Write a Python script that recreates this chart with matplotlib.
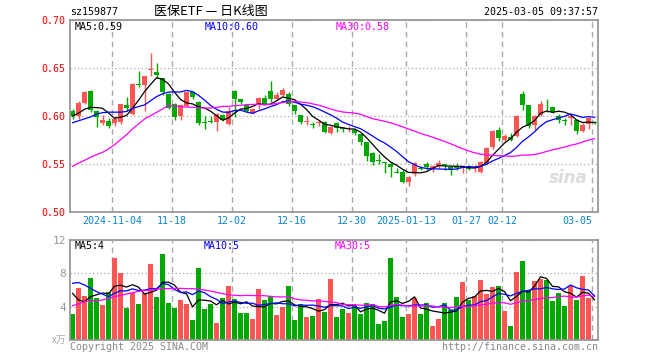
import matplotlib
matplotlib.use("Agg")
import matplotlib.pyplot as plt
import numpy as np
import pandas as pd

# ── daily candles for sz159877 (index 0 = left edge) ──
opens = [0.605, 0.600, 0.614, 0.626, 0.605, 0.593, 0.595, 0.593, 0.594, 0.611,
         0.602, 0.633, 0.632, 0.648, 0.646, 0.640, 0.623, 0.613, 0.600, 0.610,
         0.625, 0.615, 0.594, 0.595, 0.594, 0.601, 0.592, 0.626, 0.618, 0.611,
         0.603, 0.612, 0.619, 0.626, 0.618, 0.622, 0.623, 0.611, 0.601, 0.594,
         0.592, 0.593, 0.594, 0.582, 0.593, 0.587, 0.587, 0.585, 0.581, 0.573,
         0.561, 0.554, 0.552, 0.550, 0.542, 0.542, 0.531, 0.540, 0.546, 0.550,
         0.545, 0.548, 0.550, 0.547, 0.548, 0.546, 0.547, 0.546, 0.542, 0.551,
         0.568, 0.585, 0.575, 0.578, 0.579, 0.623, 0.611, 0.591, 0.601, 0.613,
         0.609, 0.600, 0.596, 0.598, 0.596, 0.584, 0.592, 0.594]
highs = [0.607, 0.616, 0.626, 0.627, 0.606, 0.601, 0.598, 0.600, 0.612, 0.620,
         0.634, 0.647, 0.642, 0.666, 0.655, 0.640, 0.624, 0.614, 0.612, 0.626,
         0.626, 0.616, 0.600, 0.600, 0.603, 0.602, 0.609, 0.627, 0.618, 0.611,
         0.608, 0.620, 0.622, 0.636, 0.625, 0.629, 0.625, 0.611, 0.601, 0.600,
         0.594, 0.596, 0.595, 0.590, 0.594, 0.589, 0.590, 0.587, 0.581, 0.573,
         0.563, 0.560, 0.552, 0.552, 0.546, 0.544, 0.538, 0.552, 0.548, 0.552,
         0.549, 0.554, 0.550, 0.548, 0.551, 0.549, 0.549, 0.549, 0.553, 0.568,
         0.585, 0.589, 0.581, 0.582, 0.601, 0.626, 0.611, 0.601, 0.616, 0.618,
         0.609, 0.602, 0.598, 0.601, 0.597, 0.593, 0.599, 0.595]
lows = [0.597, 0.597, 0.612, 0.604, 0.589, 0.591, 0.588, 0.590, 0.592, 0.605,
        0.601, 0.630, 0.605, 0.642, 0.640, 0.622, 0.607, 0.596, 0.596, 0.610,
        0.618, 0.591, 0.586, 0.593, 0.584, 0.595, 0.591, 0.599, 0.612, 0.604,
        0.602, 0.607, 0.611, 0.615, 0.617, 0.621, 0.610, 0.602, 0.592, 0.591,
        0.587, 0.590, 0.582, 0.581, 0.583, 0.583, 0.583, 0.580, 0.570, 0.553,
        0.549, 0.550, 0.541, 0.536, 0.541, 0.530, 0.527, 0.537, 0.544, 0.544,
        0.542, 0.546, 0.544, 0.539, 0.544, 0.541, 0.544, 0.542, 0.541, 0.550,
        0.566, 0.574, 0.573, 0.574, 0.578, 0.606, 0.588, 0.585, 0.600, 0.604,
        0.603, 0.593, 0.591, 0.591, 0.581, 0.583, 0.586, 0.592]
closes = [0.600, 0.614, 0.625, 0.606, 0.599, 0.596, 0.590, 0.597, 0.612, 0.608,
          0.633, 0.632, 0.642, 0.649, 0.643, 0.625, 0.608, 0.599, 0.611, 0.625,
          0.620, 0.593, 0.593, 0.594, 0.602, 0.596, 0.605, 0.618, 0.615, 0.605,
          0.607, 0.619, 0.613, 0.618, 0.622, 0.627, 0.613, 0.605, 0.594, 0.595,
          0.591, 0.594, 0.583, 0.589, 0.587, 0.586, 0.588, 0.582, 0.573, 0.558,
          0.552, 0.553, 0.551, 0.547, 0.541, 0.531, 0.536, 0.551, 0.545, 0.547,
          0.548, 0.551, 0.549, 0.544, 0.546, 0.547, 0.545, 0.547, 0.552, 0.567,
          0.584, 0.577, 0.579, 0.575, 0.600, 0.611, 0.590, 0.600, 0.613, 0.612,
          0.604, 0.596, 0.595, 0.600, 0.584, 0.591, 0.598, 0.593]
volumes = [3.12, 6.24, 5.28, 7.44, 5.04, 4.20, 5.76, 9.84, 8.08, 3.88,
           5.60, 4.32, 5.68, 9.12, 5.16, 10.32, 4.44, 3.88, 4.80, 4.32,
           2.40, 8.64, 3.72, 4.32, 2.04, 5.04, 6.48, 4.92, 3.24, 3.24,
           2.52, 6.12, 4.80, 5.24, 3.00, 3.96, 6.48, 2.40, 4.32, 2.76,
           2.88, 4.92, 3.36, 7.32, 2.76, 3.72, 3.24, 4.04, 3.12, 4.44,
           4.32, 1.92, 2.28, 9.84, 5.16, 2.76, 3.12, 5.04, 3.12, 4.44,
           1.68, 2.52, 4.44, 3.60, 5.16, 6.96, 4.80, 5.28, 7.20, 5.52,
           6.36, 6.48, 3.48, 1.68, 8.16, 9.48, 5.88, 7.08, 7.32, 7.20,
           4.68, 5.64, 4.08, 6.48, 4.80, 7.68, 5.04, 0.12]   # 万

# MA values at the left edge, where the window is not yet full on screen
ma5_head = [0.600, 0.603, 0.607, 0.609]
ma10_head = [0.593, 0.595, 0.597, 0.599, 0.602, 0.6035, 0.604, 0.604, 0.604]
ma30_head = [0.5476, 0.5510, 0.5538, 0.5570, 0.5597, 0.5622, 0.5656, 0.5700,
             0.5753, 0.5806, 0.5865, 0.5917, 0.5969, 0.6003, 0.6038, 0.6073,
             0.6108, 0.6104, 0.6097, 0.6094, 0.6090, 0.6087, 0.6083, 0.6083,
             0.6090, 0.6100, 0.6100, 0.6108, 0.6111]
vma5_head = [5.6, 4.8, 4.6, 5.2]
vma10_head = [6.8, 6.9, 6.6, 6.2, 5.8, 5.5, 5.2, 5.6, 5.9]
vma30_head = [4.12, 4.32, 4.60, 4.68, 4.72, 4.80, 5.00, 5.20, 5.36, 5.52,
              5.68, 5.84, 5.92, 6.00, 6.08, 6.16, 6.16, 6.20, 6.20, 6.16,
              6.16, 6.08, 6.00, 5.88, 5.72, 5.56, 5.44, 5.36, 5.32]

tick_idx = [7, 17, 27, 37, 47, 56, 66, 72, 87]
tick_labels = ["2024-11-04", "11-18", "12-02", "12-16", "12-30",
               "2025-01-13", "01-27", "02-12", "03-05"]

# ── colours ────────────────────────────────────────────────────────────────
C_UP    = "#ff5555"
C_DOWN  = "#00a800"
C_GRID  = "#aaaaaa"
C_FRAME = "#999999"
C_DATE  = "#0a84d0"
MONO    = "DejaVu Sans Mono"
CJK     = ["Noto Sans CJK SC", "DejaVu Sans"]
FS      = 7.2


def moving_avg(values, n, head):
    s = pd.Series(values, dtype=float).rolling(n).mean()
    s.iloc[:len(head)] = head
    return s.values


o = np.array(opens); h = np.array(highs); l = np.array(lows)
c = np.array(closes); v = np.array(volumes)
n = len(c)
x = np.arange(n)
cols = np.where(c >= o, C_UP, C_DOWN)

W, H = 660, 360
fig = plt.figure(figsize=(W / 100, H / 100), dpi=100, facecolor="white")
ax = fig.add_axes([70 / W, 1 - 212 / H, 528 / W, 192 / H])
axv = fig.add_axes([70 / W, 1 - 340 / H, 528 / W, 100 / H])

for a in (ax, axv):
    a.set_xlim(-0.42, n - 0.42)
    a.set_xticks(np.array(tick_idx) - 0.42)
    a.grid(axis="x", color=C_GRID, linestyle=(0, (4, 3)), lw=1.0)
    a.grid(axis="y", color=C_GRID, linestyle=(0, (1, 2)), lw=0.9)
    a.set_axisbelow(True)
    a.tick_params(length=0, pad=3)
    for sp in a.spines.values():
        sp.set_color(C_FRAME)
        sp.set_linewidth(1.3)

# ── price panel ─────────────────────────────────────────────────────────────
ax.vlines(x, l, h, color=cols, lw=1.0)
ax.bar(x, np.maximum(np.abs(c - o), 0.0007), bottom=np.minimum(o, c),
       width=0.8, color=cols, linewidth=0)
ax.plot(x, moving_avg(c, 5, ma5_head), color="black", lw=0.9)
ax.plot(x, moving_avg(c, 10, ma10_head), color="#0000ff", lw=0.9)
ax.plot(x, moving_avg(c, 30, ma30_head), color="#ff00ff", lw=0.9)

ax.set_ylim(0.50, 0.70)
ax.set_yticks([0.50, 0.55, 0.60, 0.65, 0.70])
ax.set_yticklabels([f"{t:.2f}" for t in ax.get_yticks()],
                   color="#ee0000", family=MONO, fontsize=FS)
ax.set_xticklabels(tick_labels, color=C_DATE, family=MONO, fontsize=FS)
ax.get_xticklabels()[-1].set_ha("right")

# ── volume panel ────────────────────────────────────────────────────────────
axv.bar(x, v, width=0.8, color=cols, linewidth=0)
axv.plot(x, moving_avg(v, 5, vma5_head), color="black", lw=0.9)
axv.plot(x, moving_avg(v, 10, vma10_head), color="#0000ff", lw=0.9)
axv.plot(x, moving_avg(v, 30, vma30_head), color="#ff00ff", lw=0.9)
axv.set_ylim(0, 12)
axv.set_yticks([4, 8, 12])
axv.set_yticklabels(["4", "8", "12"], color="#999999", family=MONO, fontsize=FS + 0.8)
axv.set_xticklabels([])

# ── texts ───────────────────────────────────────────────────────────────────
def px(xp, yp):
    return xp / W, 1 - yp / H

fig.text(*px(70, 12), "sz159877", family=MONO, fontsize=FS, va="center")
fig.text(*px(211, 12), "医保ETF — 日K线图", family=CJK, fontsize=9.4,
         ha="center", va="center")
fig.text(*px(598, 12), "2025-03-05 09:37:57", family=MONO, fontsize=FS,
         ha="right", va="center")

fig.text(*px(75, 27), "MA5:0.59", family=MONO, fontsize=FS, va="center")
fig.text(*px(205, 27), "MA10:0.60", family=MONO, fontsize=FS, va="center", color="#0000ff")
fig.text(*px(336, 27), "MA30:0.58", family=MONO, fontsize=FS, va="center", color="#ff00ff")

fig.text(*px(75, 246), "MA5:4", family=MONO, fontsize=FS, va="center")
fig.text(*px(204, 246), "MA10:5", family=MONO, fontsize=FS, va="center", color="#0000ff")
fig.text(*px(335, 246), "MA30:5", family=MONO, fontsize=FS, va="center", color="#ff00ff")

fig.text(*px(66, 340), "x万", family=CJK, fontsize=7, ha="right", va="center",
         color="#aaaaaa", style="italic")
fig.text(*px(70, 347), "Copyright 2025 SINA.COM", family=MONO, fontsize=FS,
         va="center", color="#888888")
fig.text(*px(598, 347), "http://finance.sina.com.cn", family=MONO, fontsize=FS,
         ha="right", va="center", color="#888888")

# faint sina watermark in the price panel
fig.text(*px(568, 178), "sina", fontsize=12, fontweight="bold", style="italic",
         ha="center", va="center", color="#dcdcdc")

plt.savefig("out.png", dpi=100, facecolor="white")
